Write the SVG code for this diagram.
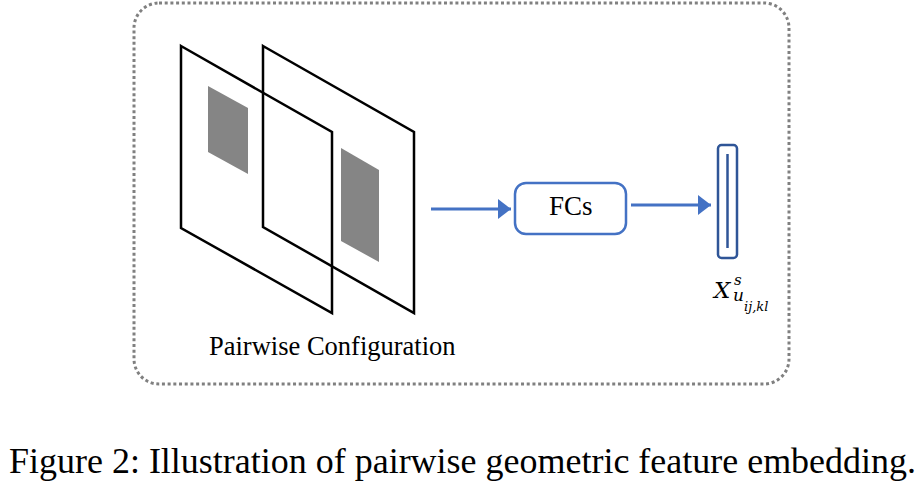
<svg xmlns="http://www.w3.org/2000/svg" width="919" height="486" viewBox="0 0 919 486">
<style>
.frame{fill:none;stroke:#000;stroke-width:2.5;stroke-linejoin:miter}
.patch{fill:#858585;stroke:none}
.conn{fill:none;stroke:#4472C4;stroke-width:3}
</style>
<defs>
<marker id="ah" markerUnits="userSpaceOnUse" markerWidth="14" markerHeight="20" refX="13" refY="10" orient="auto">
<path d="M0,0 L13,10 L0,20 Z" fill="#4472C4"/>
</marker>
</defs>
<rect id="border" x="134" y="3" width="655" height="381" rx="25" ry="25" fill="none" stroke="#808080" stroke-width="3" stroke-dasharray="3 2.7"/>
<g id="pairwise">
<polygon class="frame" points="181,46 332,132 332,313 181,228"/>
<polygon class="frame" points="263,46 414,132 414,313 263,227"/>
<polygon class="patch" points="208,86 248,108 248,174 208,152"/>
<polygon class="patch" points="341,148 379,170 379,262 341,241"/>
<text style="font-family:'Liberation Serif',serif;font-size:26.5px" x="209" y="355">Pairwise Configuration</text>
</g>
<g id="fcs">
<rect x="515" y="183" width="111" height="51" rx="11" ry="11" fill="#fff" stroke="#4472C4" stroke-width="2.5"/>
<text style="font-family:'Liberation Serif',serif;font-size:27px" x="549" y="215">FCs</text>
</g>
<g id="feature">
<rect x="718" y="145" width="19" height="113" rx="3.5" ry="3.5" fill="#fff" stroke="#2F5597" stroke-width="2.5"/>
<line x1="727.5" y1="154" x2="727.5" y2="248" stroke="#2F5597" stroke-width="2.5"/>
<text style="font-family:'DejaVu Serif',serif;font-style:italic;font-size:23px" x="714" y="298">X<tspan x="734" y="285" style="font-size:15px">s</tspan><tspan x="733" y="301" style="font-size:17px">u</tspan><tspan x="744" y="311" style="font-size:13px">ij,kl</tspan></text>
</g>
<g id="connectors">
<line class="conn" x1="431" y1="209" x2="511" y2="209" marker-end="url(#ah)"/>
<line class="conn" x1="631" y1="205" x2="711" y2="205" marker-end="url(#ah)"/>
</g>
<text style="font-family:'Liberation Serif',serif;font-size:36px" x="9" y="473" textLength="907" lengthAdjust="spacingAndGlyphs">Figure 2: Illustration of pairwise geometric feature embedding.</text>
</svg>
